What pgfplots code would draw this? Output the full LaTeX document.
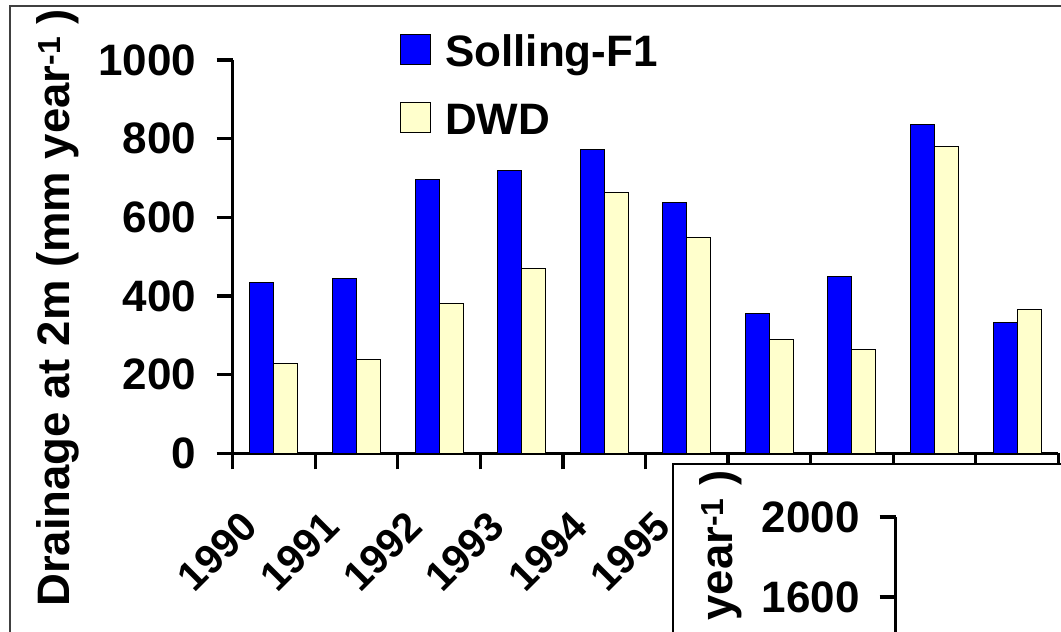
\documentclass[border=0pt]{standalone}
\usepackage{fontspec}
\setmainfont{Liberation Sans}
\usepackage{pgfplots}
\pgfplotsset{compat=1.18}
\definecolor{barblue}{RGB}{0,0,255}
\definecolor{baryellow}{RGB}{255,255,204}
\newcommand\bigf{\fontsize{44}{50}\selectfont\bfseries}
\newcommand\labf{\fontsize{45.5}{50}\selectfont\bfseries}
\newcommand\xf{\fontsize{41}{46}\selectfont\bfseries}
\pgfplotsset{
  drain/.style={
    anchor=south west,
    scale only axis, width=825.7pt,
    xmin=-0.5, xmax=9.5, ymin=0,
    axis y line*=left,
    axis line style={line width=3.3pt, -, black},
    tick align=outside,
    major tick length=16pt,
    tick style={line width=3.3pt, black},
    yticklabel style={font=\bigf, /pgf/number format/assume math mode=true,
      /pgf/number format/set thousands separator={}, inner sep=0pt, xshift=-20pt},
    ylabel={Drainage at 2m (mm year\textsuperscript{-1} )},
    ylabel style={font=\labf, at={(rel axis cs:-0.2115,0.37)}, anchor=center, inner sep=0pt},
  }
}
\begin{document}
\begin{tikzpicture}
\useasboundingbox (0pt,0pt) rectangle (1061pt,632pt);
\clip (0pt,0pt) rectangle (1061pt,632pt);
\fill[white] (0pt,0pt) rectangle (1061pt,632pt);
\draw[line width=1.6pt, black!75] (10pt,626pt) rectangle (1200pt,-100pt);
\begin{axis}[drain,
  at={(232.6pt,178.7pt)}, height=393.3pt, ymax=1000,
  axis x line*=bottom,
  ytick={0,200,...,1000},
  xtick={-0.5,0.5,...,9.5},
  xticklabels={1990,1991,1992,1993,1994,1995,1996,1997,1998,1999,{}},
  xticklabel style={font=\xf, inner sep=0pt, xshift=17pt, yshift=-50pt, rotate=45, anchor=east},
  ybar=0pt, bar width=24pt,
  legend image code/.code={\draw[#1, line width=1pt] (0pt,-13pt) rectangle (30pt,17pt);},
  legend cell align=left,
  legend style={at={(rel axis cs:0.2027,1.066)}, anchor=north west, draw=none, fill=none,
    font=\bigf, inner sep=0pt, row sep=34pt, column sep=14pt,
    nodes={inner sep=0pt}},
]
\addplot[fill=barblue, draw=black, line width=1pt] coordinates {
(0,434) (1,445) (2,697) (3,718) (4,773) (5,637) (6,356) (7,449) (8,835) (9,333)};
\addplot[fill=baryellow, draw=black, line width=1pt] coordinates {
(0,229) (1,239) (2,380) (3,470) (4,663) (5,549) (6,290) (7,264) (8,781) (9,366)};
\legend{Solling-F1, DWD}
\end{axis}
\draw[line width=1.3pt, black, fill=white] (673pt,168pt) rectangle (1200pt,-100pt);
\begin{axis}[drain,
  at={(895.7pt,-285pt)}, height=400pt, ymax=2000,
  axis x line=none,
  ytick={0,400,...,2000},
]
\end{axis}
\end{tikzpicture}
\end{document}
